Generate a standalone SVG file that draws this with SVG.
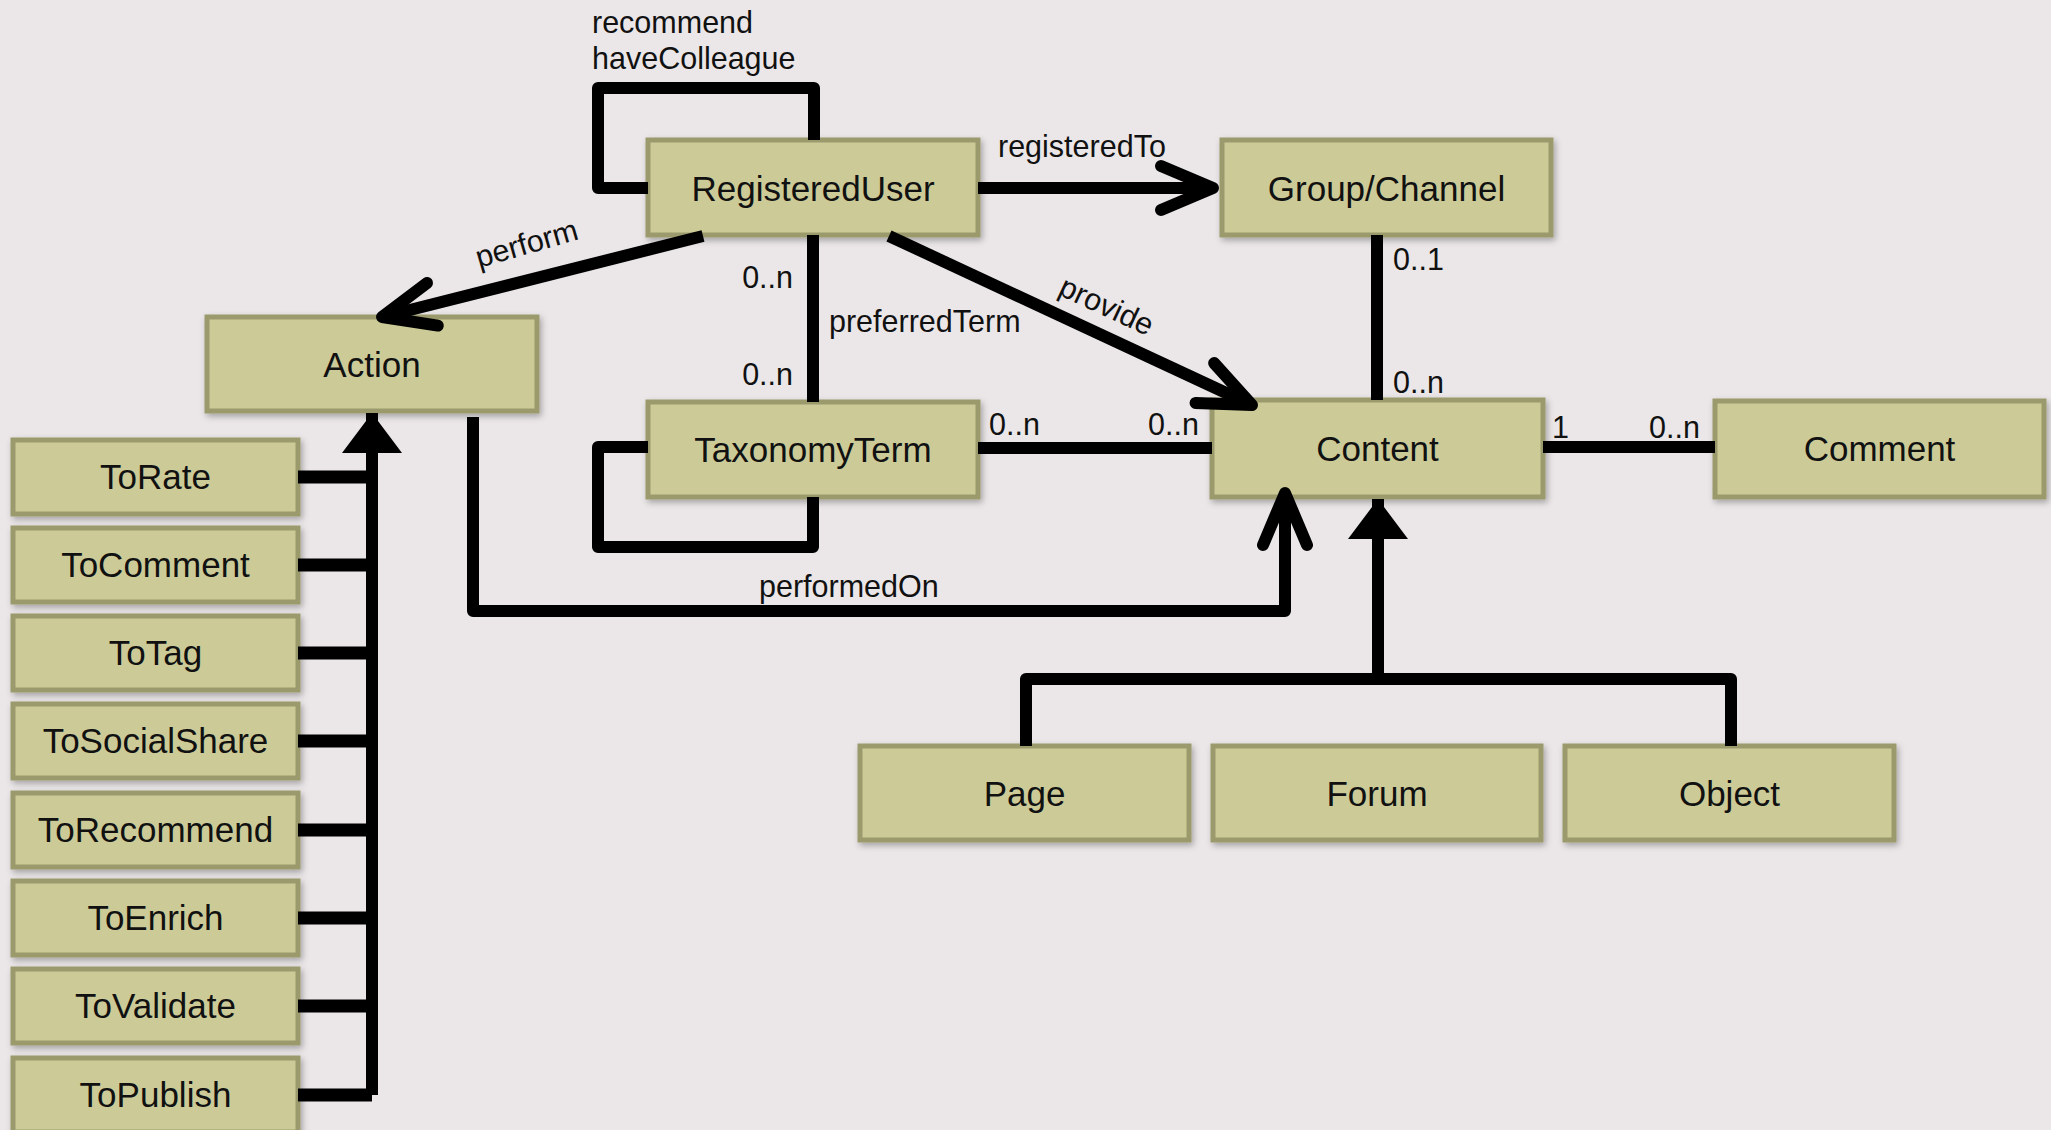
<svg xmlns="http://www.w3.org/2000/svg" width="2051" height="1130" viewBox="0 0 2051 1130">
<style>
.node rect{fill:#cccb98;stroke:#9b9a6c;stroke-width:5;filter:url(#sh)}
.node text{font-family:"Liberation Sans",Arial,sans-serif;font-size:35px;fill:#111;text-anchor:middle}
.conn path{fill:none;stroke:#000;stroke-width:12;stroke-linejoin:round}
.lbl{font-family:"Liberation Sans",Arial,sans-serif;font-size:30.5px;fill:#111}
.end{text-anchor:end}
</style>
<defs>
<filter id="sh" x="-10%" y="-20%" width="125%" height="150%">
<feDropShadow dx="2" dy="3" stdDeviation="3" flood-color="#000" flood-opacity="0.3"/>
</filter>
<marker id="open" markerUnits="userSpaceOnUse" viewBox="-70 -40 80 80" markerWidth="80" markerHeight="80" refX="0" refY="0" orient="auto">
<path d="M-52,-22 L0,0 L-52,22" fill="none" stroke="#000" stroke-width="12" stroke-linecap="round" stroke-linejoin="round"/>
</marker>
<marker id="tri" markerUnits="userSpaceOnUse" viewBox="-50 -40 60 80" markerWidth="60" markerHeight="80" refX="0" refY="0" orient="auto">
<path d="M-40,-30 L0,0 L-40,30 Z" fill="#000"/>
</marker>
</defs>
<rect width="2051" height="1130" fill="#ebe7e8"/>

<g id="RegisteredUser" class="node"><rect x="648" y="140" width="330" height="95"/><text x="813" y="201">RegisteredUser</text></g>
<g id="GroupChannel" class="node"><rect x="1222" y="140" width="329" height="95"/><text x="1386.5" y="201">Group/Channel</text></g>
<g id="Action" class="node"><rect x="207" y="317" width="330" height="94"/><text x="372" y="377">Action</text></g>
<g id="TaxonomyTerm" class="node"><rect x="648" y="402" width="330" height="95"/><text x="813" y="462">TaxonomyTerm</text></g>
<g id="Content" class="node"><rect x="1212" y="400" width="331" height="97"/><text x="1377.5" y="461">Content</text></g>
<g id="Comment" class="node"><rect x="1715" y="401" width="329" height="96"/><text x="1879.5" y="461">Comment</text></g>
<g id="Page" class="node"><rect x="860" y="746" width="329" height="94"/><text x="1024.5" y="806">Page</text></g>
<g id="Forum" class="node"><rect x="1213" y="746" width="328" height="94"/><text x="1377" y="806">Forum</text></g>
<g id="Object" class="node"><rect x="1565" y="746" width="329" height="94"/><text x="1729.5" y="806">Object</text></g>
<g id="ToRate" class="node"><rect x="13" y="440" width="285" height="74"/><text x="155.5" y="489">ToRate</text></g>
<g id="ToComment" class="node"><rect x="13" y="528" width="285" height="74"/><text x="155.5" y="577">ToComment</text></g>
<g id="ToTag" class="node"><rect x="13" y="616" width="285" height="74"/><text x="155.5" y="665">ToTag</text></g>
<g id="ToSocialShare" class="node"><rect x="13" y="704" width="285" height="74"/><text x="155.5" y="753">ToSocialShare</text></g>
<g id="ToRecommend" class="node"><rect x="13" y="793" width="285" height="74"/><text x="155.5" y="842">ToRecommend</text></g>
<g id="ToEnrich" class="node"><rect x="13" y="881" width="285" height="74"/><text x="155.5" y="930">ToEnrich</text></g>
<g id="ToValidate" class="node"><rect x="13" y="969" width="285" height="74"/><text x="155.5" y="1018">ToValidate</text></g>
<g id="ToPublish" class="node"><rect x="13" y="1058" width="285" height="74"/><text x="155.5" y="1107">ToPublish</text></g>

<g id="connectors" class="conn">
<path d="M648,188 H598 V88 H814 V140"/>
<path d="M978,188 H1213" marker-end="url(#open)"/>
<path d="M703,236 L382,317" marker-end="url(#open)"/>
<path d="M889,236 L1252,405" marker-end="url(#open)"/>
<path d="M813,235 V402"/>
<path d="M648,447 H598 V547 H813 V497"/>
<path d="M978,448 H1212"/>
<path d="M1377,235 V400"/>
<path d="M1543,447 H1715"/>
<path d="M473,417 V611 H1285 V493" marker-end="url(#open)"/>
<path d="M1378,679 V499" marker-end="url(#tri)"/>
<path d="M1026,746 V679 H1731 V746"/>
<path d="M372,1095 V413" marker-end="url(#tri)"/>
<path d="M298,1095 H372 M298,477 H372 M298,565 H372 M298,653 H372 M298,741 H372 M298,830 H372 M298,918 H372 M298,1006 H372" style="stroke-width:13"/>
</g>

<g id="labels">
<text class="lbl" x="592" y="33">recommend</text>
<text class="lbl" x="592" y="69">haveColleague</text>
<text class="lbl" x="998" y="157">registeredTo</text>
<text class="lbl" transform="translate(479,268) rotate(-16)">perform</text>
<text class="lbl" transform="translate(1057,294) rotate(25)">provide</text>
<text class="lbl end" x="793" y="288">0..n</text>
<text class="lbl" x="829" y="332">preferredTerm</text>
<text class="lbl end" x="793" y="385">0..n</text>
<text class="lbl" x="1393" y="270">0..1</text>
<text class="lbl" x="1393" y="393">0..n</text>
<text class="lbl" x="989" y="435">0..n</text>
<text class="lbl" x="1148" y="435">0..n</text>
<text class="lbl" x="1552" y="438">1</text>
<text class="lbl" x="1649" y="438">0..n</text>
<text class="lbl" x="759" y="597">performedOn</text>
</g>
</svg>
